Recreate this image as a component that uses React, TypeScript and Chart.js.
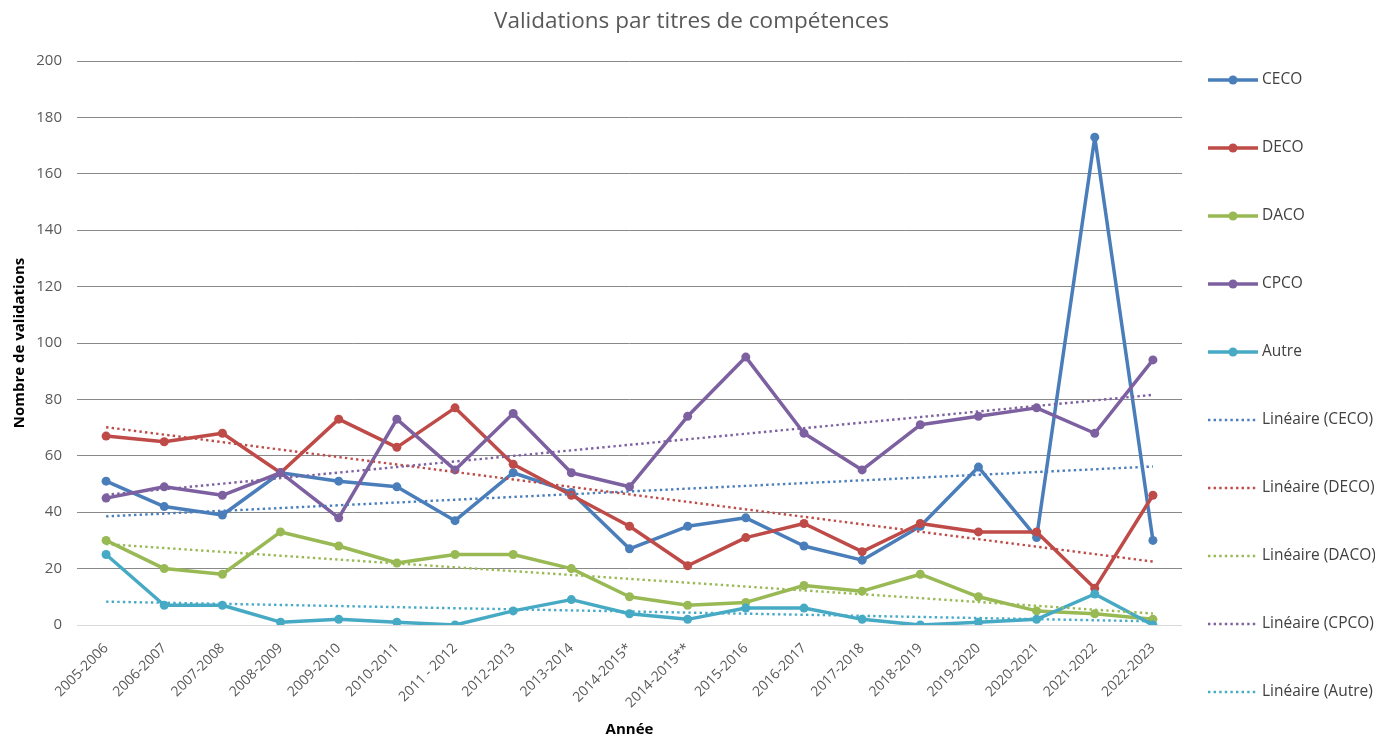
import React, { useEffect, useRef } from "react";
import { Chart, registerables } from "chart.js";

Chart.register(...registerables);

const TITLE = "Validations par titres de compétences";
const X_TITLE = "Année";
const Y_TITLE = "Nombre de validations";

const categories = [
  "2005-2006", "2006-2007", "2007-2008", "2008-2009", "2009-2010", "2010-2011",
  "2011 - 2012", "2012-2013", "2013-2014", "2014-2015*", "2014-2015**", "2015-2016",
  "2016-2017", "2017-2018", "2018-2019", "2019-2020", "2020-2021", "2021-2022", "2022-2023",
];

const ceco = [51, 42, 39, 54, 51, 49, 37, 54, 47, 27, 35, 38, 28, 23, 35, 56, 31, 173, 30];
const deco = [67, 65, 68, 54, 73, 63, 77, 57, 46, 35, 21, 31, 36, 26, 36, 33, 33, 13, 46];
const daco = [30, 20, 18, 33, 28, 22, 25, 25, 20, 10, 7, 8, 14, 12, 18, 10, 5, 4, 2];
const cpco = [45, 49, 46, 54, 38, 73, 55, 75, 54, 49, 74, 95, 68, 55, 71, 74, 77, 68, 94];
const autre = [25, 7, 7, 1, 2, 1, 0, 5, 9, 4, 2, 6, 6, 2, 0, 1, 2, 11, 0];

const seriesNames = ["CECO", "DECO", "DACO", "CPCO", "Autre"];
const seriesValues = [ceco, deco, daco, cpco, autre];
const seriesColors = ["#4A7EBB", "#BE4B48", "#98B954", "#7D60A0", "#46AAC5"];

const Y_MIN = 0;
const Y_MAX = 200;
const Y_STEP = 20;

const FONT = "'Open Sans', 'DejaVu Sans', sans-serif";

// least-squares linear trend of a series (Excel "Linéaire" trendline)
function linearTrend(values: number[]): number[] {
  const n = values.length;
  let sx = 0, sy = 0, sxy = 0, sxx = 0;
  values.forEach((v, i) => {
    sx += i; sy += v; sxy += i * v; sxx += i * i;
  });
  const slope = (n * sxy - sx * sy) / (n * sxx - sx * sx);
  const intercept = (sy - slope * sx) / n;
  return values.map((_, i) => intercept + slope * i);
}

const sideLegend = {
  id: "sideLegend",
  afterDraw(chart: any) {
    const ctx = chart.ctx;
    const area = chart.chartArea;
    const x0 = area.right + 26;
    const lineLen = 50;
    const y0 = 72;
    const step = 68;
    chart.data.datasets.forEach((ds: any, i: number) => {
      const y = y0 + i * step;
      ctx.save();
      ctx.strokeStyle = ds.borderColor;
      ctx.lineWidth = ds.borderWidth;
      ctx.lineCap = "butt";
      ctx.setLineDash(ds.borderDash || []);
      ctx.beginPath();
      ctx.moveTo(x0, y);
      ctx.lineTo(x0 + lineLen, y);
      ctx.stroke();
      ctx.setLineDash([]);
      if (ds.pointRadius > 0) {
        ctx.fillStyle = ds.borderColor;
        ctx.beginPath();
        ctx.arc(x0 + lineLen / 2, y, ds.pointRadius, 0, Math.PI * 2);
        ctx.fill();
      }
      ctx.fillStyle = "#404040";
      ctx.font = `15.5px ${FONT}`;
      ctx.textAlign = "left";
      ctx.textBaseline = "middle";
      ctx.fillText(ds.label, x0 + lineLen + 4, y);
      ctx.restore();
    });
  },
};

export default function App() {
  const ref = useRef<HTMLCanvasElement | null>(null);

  useEffect(() => {
    if (!ref.current) return;
    const mainSets = seriesNames.map((name, i) => ({
      label: name,
      data: seriesValues[i],
      borderColor: seriesColors[i],
      backgroundColor: seriesColors[i],
      borderWidth: 3.5,
      borderJoinStyle: "round",
      pointRadius: 4.5,
      pointBorderWidth: 0,
      pointBackgroundColor: seriesColors[i],
      tension: 0,
      yAxisID: "y",
      order: 10 - i,
    }));
    const trendSets = seriesNames.map((name, i) => ({
      label: `Linéaire (${name})`,
      data: linearTrend(seriesValues[i]),
      borderColor: seriesColors[i],
      backgroundColor: seriesColors[i],
      borderWidth: 2.4,
      borderDash: [2.4, 3.2],
      borderCapStyle: "butt",
      pointRadius: 0,
      tension: 0,
      yAxisID: "y",
      order: 5 - i,
    }));

    const chart = new Chart(ref.current, {
      type: "line",
      data: { labels: categories, datasets: [...mainSets, ...trendSets] as any },
      options: {
        animation: false,
        responsive: false,
        devicePixelRatio: 1,
        layout: { padding: 0 },
        plugins: {
          legend: { display: false },
          tooltip: { enabled: false },
          title: {
            display: true,
            text: TITLE,
            color: "#595959",
            font: { family: FONT, size: 22.5, weight: "normal" },
            padding: { top: 0.5, bottom: 25.5 },
          },
        },
        scales: {
          x: {
            type: "category",
            offset: true,
            grid: { display: false, drawTicks: false },
            border: { display: false },
            ticks: {
              autoSkip: false,
              maxRotation: 45,
              minRotation: 45,
              color: "#595959",
              font: { family: FONT, size: 14 },
              padding: 15,
            },
            title: {
              display: true,
              text: X_TITLE,
              color: "#000000",
              font: { family: FONT, size: 15, weight: "bold" },
              padding: { top: 0, bottom: 0 },
            },
            afterFit: (s: any) => { s.height = 114; },
          },
          y: {
            position: "left",
            min: Y_MIN,
            max: Y_MAX,
            ticks: {
              stepSize: Y_STEP,
              color: "#595959",
              font: { family: FONT, size: 15 },
              padding: 15,
            },
            grid: {
              drawTicks: false,
              lineWidth: 1,
              color: (c: any) => (c.tick && c.tick.value === 0 ? "#D9D9D9" : "#898989"),
            },
            border: { display: false },
            title: {
              display: true,
              text: Y_TITLE,
              color: "#000000",
              font: { family: FONT, size: 15, weight: "bold" },
              padding: { top: 3, bottom: 0 },
            },
            afterFit: (s: any) => { s.width = 69; },
          },
          legendSpace: {
            position: "right",
            min: Y_MIN,
            max: Y_MAX,
            grid: { display: false, drawTicks: false },
            border: { display: false },
            ticks: { display: false },
            afterFit: (s: any) => { s.width = 193; },
          },
        },
      },
      plugins: [sideLegend],
    } as any);
    return () => chart.destroy();
  }, []);

  return (
    <div style={{ width: 1367, height: 731 }}>
      <canvas ref={ref} width={1367} height={731} style={{ display: "block" }} />
    </div>
  );
}
